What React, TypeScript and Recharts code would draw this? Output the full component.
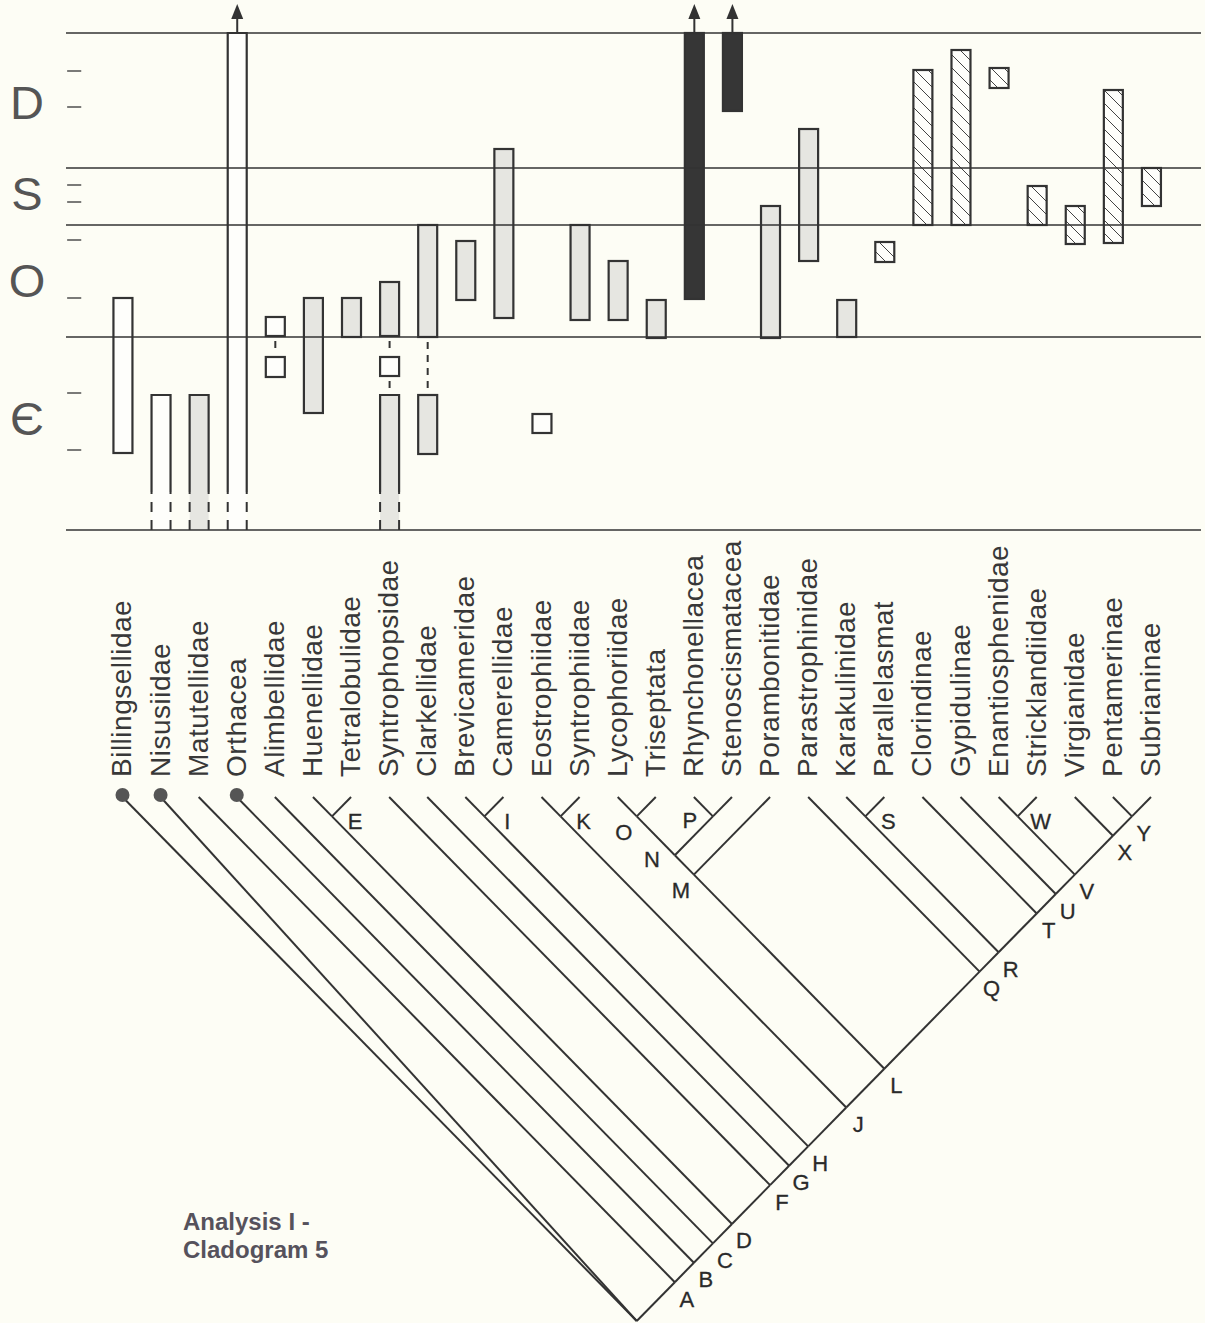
import React from "react";
import {
  ComposedChart,
  Bar,
  XAxis,
  YAxis,
  ReferenceLine,
  Scatter,
} from "recharts";

const BG = "#fdfdf5";
const INK = "#333333";
const FONT = "'Liberation Sans', Arial, Helvetica, sans-serif";

// taxa, left to right (index = column)
const taxa = [
  "Billingsellidae", "Nisusiidae", "Matutellidae", "Orthacea", "Alimbellidae",
  "Huenellidae", "Tetralobulidae", "Syntrophopsidae", "Clarkellidae", "Brevicameridae",
  "Camerellidae", "Eostrophiidae", "Syntrophiidae", "Lycophoriidae", "Triseptata",
  "Rhynchonellacea", "Stenoscismatacea", "Porambonitidae", "Parastrophinidae", "Karakulinidae",
  "Parallelasmat", "Clorindinae", "Gypidulinae", "Enantiosphenidae", "Stricklandiidae",
  "Virgianidae", "Pentamerinae", "Subrianinae",
];

// stratigraphic level, 0 = base of the chart
const periodBounds = [0, 193, 305, 362, 497];
const periodNames = ["Є", "O", "S", "D"];
const periodLabelLevels = [112, 250, 337, 428];
const stageTicks = [80, 137, 232, 290, 328, 345, 423, 459];

// ranges per taxon, top to bottom: [from, to, kind]
// open / stip / black / hatch = boxes, dash = dashed continuation, link = dashed gap
type Seg = [number, number, string];
const ranges: Seg[][] = [
  [[77, 232, "open"]],
  [[38, 135, "open"], [0, 38, "dash"]],
  [[38, 135, "stip"], [0, 38, "dash"]],
  [[38, 497, "open"], [0, 38, "dash"]],
  [[194, 213, "open"], [173, 194, "link"], [153, 173, "open"]],
  [[117, 232, "stip"]],
  [[193, 232, "stip"]],
  [[194, 248, "stip"], [173, 194, "link"], [154, 173, "open"], [135, 154, "link"], [38, 135, "stip"], [0, 38, "dash"]],
  [[193, 305, "stip"], [135, 193, "link"], [76, 135, "stip"]],
  [[230, 289, "stip"]],
  [[212, 381, "stip"]],
  [[97, 116, "open"]],
  [[210, 305, "stip"]],
  [[210, 269, "stip"]],
  [[192, 230, "stip"]],
  [[231, 497, "black"]],
  [[419, 497, "black"]],
  [[192, 324, "stip"]],
  [[269, 401, "stip"]],
  [[193, 230, "stip"]],
  [[268, 288, "hatch"]],
  [[305, 460, "hatch"]],
  [[305, 480, "hatch"]],
  [[442, 462, "hatch"]],
  [[305, 344, "hatch"]],
  [[286, 324, "hatch"]],
  [[287, 440, "hatch"]],
  [[324, 362, "hatch"]],
];

// ranges that continue past the top of the chart
const arrowTaxa = [3, 15, 16];
// taxa marked with a dot on the cladogram
const dotTaxa = [0, 1, 3];

// cladogram topology
type Clade = { label: string; kids: (number | Clade)[] };
const clade = (label: string, ...kids: (number | Clade)[]): Clade => ({ label, kids });
const tree = clade("", 0, 1,
  clade("A", 2, clade("B", 3, clade("C", 4, clade("D", clade("E", 5, 6),
    clade("F", 7, clade("G", 8, clade("H", clade("I", 9, 10),
      clade("J", clade("K", 11, 12),
        clade("L",
          clade("M", clade("N", clade("O", 13, 14), clade("P", 15, 16)), 17),
          clade("Q", 18, clade("R", clade("S", 19, 20),
            clade("T", 21, clade("U", 22, clade("V", clade("W", 23, 24),
              clade("X", 25, clade("Y", 26, 27)))))))))))))))));

// where each node letter sits relative to its node
const labelSide: Record<string, string> = { E: "r", I: "r", K: "r", S: "r", W: "r", O: "bl", M: "bl", P: "l", N: "l" };

const xDomain: [number, number] = [-1.483, 28.313];
const tickLen = 0.37; // stage tick length, in column units

const fills: Record<string, string> = {
  open: "#fefefb",
  stip: "#e6e6e1",
  black: "#363636",
  hatch: "url(#hatch)",
};

const rows = taxa.map((name, i) => {
  const segs = ranges[i];
  const lo = Math.min(...segs.map((s) => s[0]));
  const hi = Math.max(...segs.map((s) => s[1]));
  return { i, name, span: [lo, hi], segs, arrow: arrowTaxa.includes(i) };
});

// V-shaped layout: a node spanning taxa a..b sits at ((a+b)/2, (b-a)/2)
type Pt = { x: number; y: number };
const edges: [Pt, Pt][] = [];
const nodeLabels: { x: number; y: number; label: string; side: string }[] = [];
function place(n: number | Clade): { a: number; b: number; p: Pt } {
  if (typeof n === "number") return { a: n, b: n, p: { x: n, y: 0 } };
  const kids = n.kids.map(place);
  const a = Math.min(...kids.map((k) => k.a));
  const b = Math.max(...kids.map((k) => k.b));
  const p = { x: (a + b) / 2, y: (b - a) / 2 };
  kids.forEach((k) => edges.push([k.p, p]));
  if (n.label) nodeLabels.push({ ...p, label: n.label, side: labelSide[n.label] || "br" });
  return { a, b, p };
}
place(tree);

const dots = dotTaxa.map((i) => ({ x: i, y: 0 }));

function RangeShape(props: any) {
  const { x, y, width, height, payload } = props;
  if (!payload) return null;
  const [lo, hi] = payload.span;
  const top = Math.min(y, y + height);
  const k = Math.abs(height) / (hi - lo);
  const py = (v: number) => top + (hi - v) * k;
  const segs: Seg[] = payload.segs;
  const cx = x + width / 2;
  const out: React.ReactNode[] = [];
  segs.forEach(([from, to, kind], j) => {
    const y1 = py(to);
    const y2 = py(from);
    if (kind === "link") {
      out.push(
        <line key={j} x1={cx} x2={cx} y1={y1 + 5} y2={y2 - 5} stroke={INK} strokeWidth={2} strokeDasharray="7 6" />
      );
      return;
    }
    if (kind === "dash") {
      const above = segs[j - 1][2];
      out.push(
        <g key={j}>
          <rect x={x} y={y1} width={width} height={y2 - y1} fill={fills[above]} />
          <line x1={x} x2={x} y1={y2} y2={y1} stroke={INK} strokeWidth={2} strokeDasharray="10 8" />
          <line x1={x + width} x2={x + width} y1={y2} y2={y1} stroke={INK} strokeWidth={2} strokeDasharray="10 8" />
        </g>
      );
      return;
    }
    const openBottom = segs[j + 1] && segs[j + 1][2] === "dash";
    out.push(
      <g key={j}>
        <rect
          x={x}
          y={y1}
          width={width}
          height={y2 - y1}
          fill={fills[kind]}
          stroke={openBottom ? "none" : INK}
          strokeWidth={2.2}
        />
        {openBottom && (
          <path d={`M${x},${y2} V${y1} H${x + width} V${y2}`} fill="none" stroke={INK} strokeWidth={2.2} />
        )}
      </g>
    );
  });
  if (payload.arrow) {
    const t = py(hi);
    out.push(
      <g key="arrow">
        <line x1={cx} x2={cx} y1={t} y2={t - 16} stroke={INK} strokeWidth={2} />
        <path d={`M${cx},${t - 29} L${cx - 6},${t - 14} L${cx + 6},${t - 14} Z`} fill={INK} />
      </g>
    );
  }
  return <g>{out}</g>;
}

function PeriodTick(props: any) {
  const { y, payload } = props;
  const idx = periodLabelLevels.indexOf(payload.value);
  return (
    <text x={27} y={y + 17} textAnchor="middle" fontSize={47} fill="#555" fontFamily={FONT}>
      {periodNames[idx]}
    </text>
  );
}

function TaxonTick(props: any) {
  const { x, payload } = props;
  return (
    <text
      transform={`translate(${x + 9},777) rotate(-90)`}
      fontSize={28}
      letterSpacing={0.5}
      fill="#383838"
      fontFamily={FONT}
    >
      {taxa[payload.value]}
    </text>
  );
}

function NodeLabel(props: any) {
  const { cx, cy, payload } = props;
  const off: Record<string, [number, number]> = {
    br: [12, 17],
    r: [23, 5],
    bl: [-13, 16],
    l: [-23, 4],
  };
  const [dx, dy] = off[payload.side];
  return (
    <text
      x={cx + dx}
      y={cy + dy}
      textAnchor="middle"
      dominantBaseline="central"
      fontSize={22}
      fill="#2a2a2a"
      stroke="#2a2a2a"
      strokeWidth={0.3}
      fontFamily={FONT}
    >
      {payload.label}
    </text>
  );
}

export default function App() {
  return (
    <div style={{ position: "absolute", left: 0, top: 0, width: 1205, height: 1323, background: BG }}>
      <svg width={0} height={0} style={{ position: "absolute" }}>
        <defs>
          <pattern id="hatch" patternUnits="userSpaceOnUse" width={13} height={13}>
            <rect width={13} height={13} fill="#fefefb" />
            <path d="M-1,-1 L14,14 M-1,12 L1,14 M12,-1 L14,1" stroke="#444" strokeWidth={1} />
          </pattern>
        </defs>
      </svg>

      <div style={{ position: "absolute", left: 0, top: 0 }}>
        <ComposedChart width={1205} height={790} data={rows} margin={{ top: 33, right: 4, left: 0, bottom: 0 }}>
          <XAxis
            dataKey="i"
            type="number"
            domain={xDomain}
            ticks={taxa.map((_, i) => i)}
            interval={0}
            height={260}
            axisLine={false}
            tickLine={false}
            tick={(p: any) => <TaxonTick {...p} />}
          />
          <YAxis
            yAxisId="strat"
            type="number"
            domain={[0, 497]}
            ticks={periodLabelLevels}
            interval={0}
            width={66}
            axisLine={false}
            tickLine={false}
            tick={(p: any) => <PeriodTick {...p} />}
          />
          <Bar
            yAxisId="strat"
            dataKey="span"
            barSize={19}
            isAnimationActive={false}
            shape={(p: any) => <RangeShape {...p} />}
          />
          {periodBounds.map((b) => (
            <ReferenceLine key={b} yAxisId="strat" y={b} stroke={INK} strokeWidth={1.3} />
          ))}
          {stageTicks.map((t) => (
            <ReferenceLine
              key={`t${t}`}
              yAxisId="strat"
              segment={[
                { x: xDomain[0] + 0.03, y: t },
                { x: xDomain[0] + 0.03 + tickLen, y: t },
              ]}
              stroke={INK}
              strokeWidth={1.3}
              ifOverflow="visible"
            />
          ))}
        </ComposedChart>
      </div>

      <div style={{ position: "absolute", left: 0, top: 760 }}>
        <ComposedChart width={1205} height={563} margin={{ top: 37, right: 4, left: 66, bottom: 2 }}>
          <XAxis dataKey="x" type="number" domain={xDomain} hide />
          <YAxis dataKey="y" type="number" domain={[0, 13.5]} reversed hide />
          {edges.map(([p, q], k) => (
            <ReferenceLine
              key={k}
              segment={[p, q]}
              stroke={INK}
              strokeWidth={2}
              ifOverflow="visible"
            />
          ))}
          <Scatter
            data={dots}
            isAnimationActive={false}
            shape={(p: any) => <circle cx={p.cx} cy={p.cy - 2} r={7} fill="#555" />}
          />
          <Scatter
            data={nodeLabels}
            isAnimationActive={false}
            shape={(p: any) => <NodeLabel {...p} />}
          />
        </ComposedChart>
      </div>

      <div
        style={{
          position: "absolute",
          left: 183,
          top: 1208,
          fontFamily: FONT,
          fontWeight: "bold",
          fontSize: 24,
          lineHeight: "28px",
          color: "#56525c",
        }}
      >
        Analysis I -
        <br />
        Cladogram 5
      </div>
    </div>
  );
}
